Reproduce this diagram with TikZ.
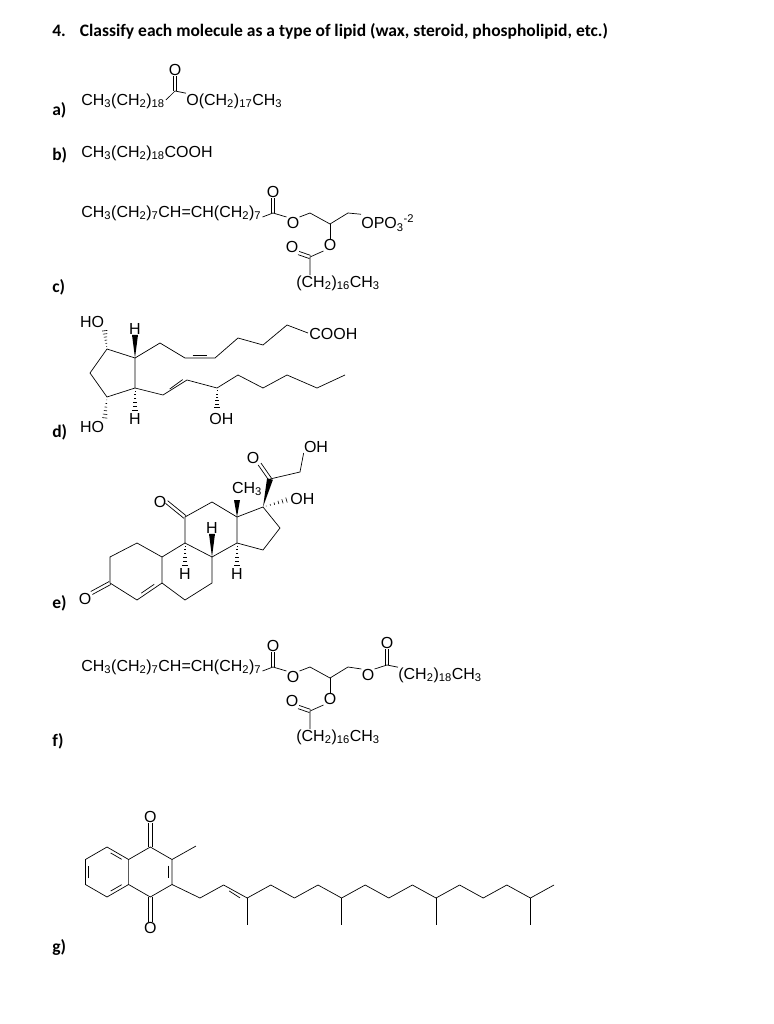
\documentclass[tikz,border=0pt]{standalone}
\usepackage{fontspec}
\setmainfont{Liberation Sans}
\newfontfamily\hdfont{Carlito}
\usetikzlibrary{calc}
\newcommand\ssb[1]{\textsubscript{#1}}
\newcommand\hashb[2]{\foreach \t in {0.12,0.27,...,0.95}{\pgfmathsetmacro\w{\t*3}\draw[line width=0.6pt] ($(#1)!\t!(#2)!\w pt!90:(#2)$) -- ($(#1)!\t!(#2)!\w pt!-90:(#2)$);}}
\newcommand\wedgeb[2]{\fill (#1) -- ($(#2)!3pt!90:(#1)$) -- ($(#2)!3pt!-90:(#1)$) -- cycle;}
\newcommand\dbond[2]{\draw ($(#1)!1.7pt!90:(#2)$) -- ($(#2)!1.7pt!-90:(#1)$); \draw ($(#1)!1.7pt!-90:(#2)$) -- ($(#2)!1.7pt!90:(#1)$);}
\newcommand\innerb[3]{\path ($(#1)!.2!(#2)$) coordinate (ia) ($(#2)!.2!(#1)$) coordinate (ib); \draw ($(ia)!3.5pt!(#3)$) -- ($(ib)!3.5pt!(#3)$);}
\begin{document}
\begin{tikzpicture}[x=1pt,y=-1pt,line width=0.7pt,
  txt/.style={inner sep=0pt,font=\fontsize{16}{18}\selectfont},
  lab/.style={inner sep=0pt,anchor=west,font=\hdfont\bfseries\fontsize{17.5}{19}\selectfont}]
\useasboundingbox (0,0) rectangle (773,1024);
% header and labels
\node[lab] (hd) at (52,31) {4.\hspace{0.8em}Classify each molecule as a type of lipid (wax, steroid, phospholipid, etc.)};
\node[lab] (la) at (52,110) {a)};
\node[lab] (lb) at (52,155) {b)};
\node[lab] (lc) at (52,287) {c)};
\node[lab] (ld) at (52,432) {d)};
\node[lab] (le) at (52,603) {e)};
\node[lab] (lf) at (52,741) {f)};
\node[lab] (lg) at (52,947) {g)};
% a)
\node[txt,anchor=west] (a1) at (81,101) {CH\ssb{3}(CH\ssb{2})\ssb{18}};
\node[txt,anchor=west] (a2) at (186,101) {O(CH\ssb{2})\ssb{17}CH\ssb{3}};
\node[txt] (aO) at (175,70) {O};
\coordinate (aC) at (175,91);
\draw (a1.east) ++(1,-1) -- (aC) -- (a2.north west);
\dbond{aC}{aO.south}
% b)
\node[txt,anchor=west] (b1) at (81,153) {CH\ssb{3}(CH\ssb{2})\ssb{18}COOH};
% c) and f)
\foreach \dy/\nm in {0/c,454/f}{
\begin{scope}[yshift=-\dy pt]
\node[txt,anchor=west] (\nm1) at (81,213) {CH\ssb{3}(CH\ssb{2})\ssb{7}CH=CH(CH\ssb{2})\ssb{7}};
\node[txt] (\nm O1) at (273,192) {O};
\node[txt] (\nm O2) at (293,223) {O};
\node[txt] (\nm O3) at (330,245) {O};
\node[txt] (\nm O4) at (292,247) {O};
\node[txt] (\nm t2) at (338,283) {(CH\ssb{2})\ssb{16}CH\ssb{3}};
\coordinate (\nm C1) at (273,213);
\coordinate (\nm C2) at (310,213);
\coordinate (\nm C3) at (330,224);
\coordinate (\nm C4) at (348,213);
\coordinate (\nm C5) at (310,257);
\draw (\nm1.east) ++(1,4) -- (\nm C1) -- (\nm O2.north west);
\dbond{\nm C1}{\nm O1.south}
\draw (\nm O2.north east) -- (\nm C2) -- (\nm C3) -- (\nm C4);
\draw (\nm C3) -- (\nm O3.north);
\draw (\nm O3.south west) -- (\nm C5) -- (\nm t2.north -| \nm C5);
\dbond{\nm C5}{\nm O4.south east}
\end{scope}}
\node[txt,anchor=west] (cP) at (361,223) {OPO\ssb{3}\textsuperscript{-2}};
\draw (cC4) -- (cP.north west);
\node[txt] (fO5) at (368,675) {O};
\node[txt] (fO6) at (387,643) {O};
\node[txt,anchor=west] (ft) at (398,675) {(CH\ssb{2})\ssb{18}CH\ssb{3}};
\coordinate (fC6) at (387,665);
\draw (fC4) -- (fO5.north west);
\draw (fO5.north east) -- (fC6) -- (ft.north west);
\dbond{fC6}{fO6.south}
% d)
\coordinate (p1) at (107,349); \coordinate (p2) at (135,358); \coordinate (p3) at (135,388);
\coordinate (p4) at (107,397); \coordinate (p5) at (90,373);
\draw (p1) -- (p2) -- (p3) -- (p4) -- (p5) -- cycle;
\node[txt] (dHO1) at (92,322) {HO};
\node[txt] (dHO2) at (92,427) {HO};
\node[txt] (dH1) at (135,329) {H};
\node[txt] (dH2) at (135,419) {H};
\node[txt,anchor=west] (dOH) at (209,419) {OH};
\node[txt,anchor=west] (dCOOH) at (309,334) {COOH};
\coordinate (u1) at (160,343); \coordinate (u2) at (185,358); \coordinate (u3) at (215,358);
\coordinate (u4) at (238,338); \coordinate (u5) at (263,345); \coordinate (u6) at (287,325);
\coordinate (u7) at (308,333);
\draw (p2) -- (u1) -- (u2) -- (u3) -- (u4) -- (u5) -- (u6) -- (u7);
\innerb{u2}{u3}{200,340}
\coordinate (l1) at (163,395); \coordinate (l2) at (187,380); \coordinate (l3) at (217,388);
\coordinate (l4) at (238,375); \coordinate (l5) at (263,388); \coordinate (l6) at (287,375);
\coordinate (l7) at (317,388); \coordinate (l8) at (345,375);
\draw (p3) -- (l1) -- (l2) -- (l3) -- (l4) -- (l5) -- (l6) -- (l7) -- (l8);
\innerb{l1}{l2}{185,365}
\hashb{p1}{dHO1.south east}
\hashb{p4}{dHO2.north east}
\wedgeb{p2}{dH1.south}
\hashb{p3}{dH2.north}
\hashb{l3}{217,410}
% e)
\coordinate (a1) at (110,557); \coordinate (a2) at (137,543); \coordinate (c10) at (162,557);
\coordinate (c5) at (162,583); \coordinate (c4) at (137,600); \coordinate (c3) at (110,583);
\coordinate (c9) at (185,543); \coordinate (c8) at (212,557); \coordinate (c7) at (212,583);
\coordinate (c6) at (185,600); \coordinate (c11) at (185,517); \coordinate (c12) at (212,502);
\coordinate (c13) at (237,517); \coordinate (c14) at (237,543); \coordinate (c17) at (263,507);
\coordinate (c16) at (280,528); \coordinate (c15) at (263,550); \coordinate (c20) at (270,479);
\coordinate (c21) at (300,472);
\draw (a1) -- (a2) -- (c10) -- (c5) -- (c4) -- (c3) -- cycle;
\draw (c10) -- (c9) -- (c8) -- (c7) -- (c6) -- (c5);
\draw (c9) -- (c11) -- (c12) -- (c13) -- (c14) -- (c8);
\draw (c13) -- (c17) -- (c16) -- (c15) -- (c14);
\innerb{c4}{c5}{136,570}
\node[txt] (eO3) at (85,599) {O};
\node[txt] (eO11) at (160,502) {O};
\node[txt] (eO20) at (253,458) {O};
\node[txt] (eOH1) at (316,447) {OH};
\node[txt,anchor=west] (eOH2) at (290,499) {OH};
\node[txt] (eCH3) at (247,489) {CH\ssb{3}};
\node[txt] (eH9) at (185,574) {H};
\node[txt] (eH8) at (212,528) {H};
\node[txt] (eH14) at (237,574) {H};
\dbond{c3}{eO3.north east}
\dbond{c11}{eO11.east}
\dbond{c20}{eO20.south east}
\wedgeb{c13}{237,500}
\wedgeb{c17}{c20}
\draw (c20) -- (c21) -- (eOH1.south west);
\hashb{c17}{eOH2.west}
\hashb{c9}{eH9.north}
\wedgeb{c8}{eH8.south}
\hashb{c14}{eH14.north}
% g)
\coordinate (b1) at (107,847); \coordinate (b2) at (128.6,859.5); \coordinate (b3) at (128.6,884.5);
\coordinate (b4) at (107,897); \coordinate (b5) at (85.4,884.5); \coordinate (b6) at (85.4,859.5);
\coordinate (q1) at (150.3,847); \coordinate (q2) at (172,859.5); \coordinate (q3) at (172,884.5);
\coordinate (q4) at (150.3,897);
\draw (b1) -- (b2) -- (b3) -- (b4) -- (b5) -- (b6) -- cycle;
\draw (b2) -- (q1) -- (q2) -- (q3) -- (q4) -- (b3);
\innerb{b1}{b2}{107,872}
\innerb{b3}{b4}{107,872}
\innerb{b5}{b6}{107,872}
\innerb{q2}{q3}{150.3,872}
\node[txt] (gO1) at (150.3,817) {O};
\node[txt] (gO2) at (150.3,928) {O};
\dbond{q1}{gO1.south}
\dbond{q4}{gO2.north}
\coordinate (gm) at (196,846);
\draw (q2) -- (gm);
\coordinate (z0) at (200,898);
\draw (q3) -- (z0);
\foreach \k in {1,...,15}{
  \pgfmathsetmacro\xa{200+23.6*(\k-1)}\pgfmathsetmacro\xb{200+23.6*\k}
  \pgfmathsetmacro\ya{mod(\k-1,2)==0 ? 898 : 885}\pgfmathsetmacro\yb{mod(\k,2)==0 ? 898 : 885}
  \coordinate (za) at (\xa,\ya); \coordinate (zb) at (\xb,\yb);
  \draw (za) -- (zb);
}
\coordinate (zd1) at (223.6,885); \coordinate (zd2) at (247.2,898);
\innerb{zd1}{zd2}{233,905}
\foreach \x in {247.2,341.6,436,530.4}{
  \coordinate (zm) at (\x,898); \coordinate (zn) at (\x,925);
  \draw (zm) -- (zn);
}
\end{tikzpicture}
\end{document}
